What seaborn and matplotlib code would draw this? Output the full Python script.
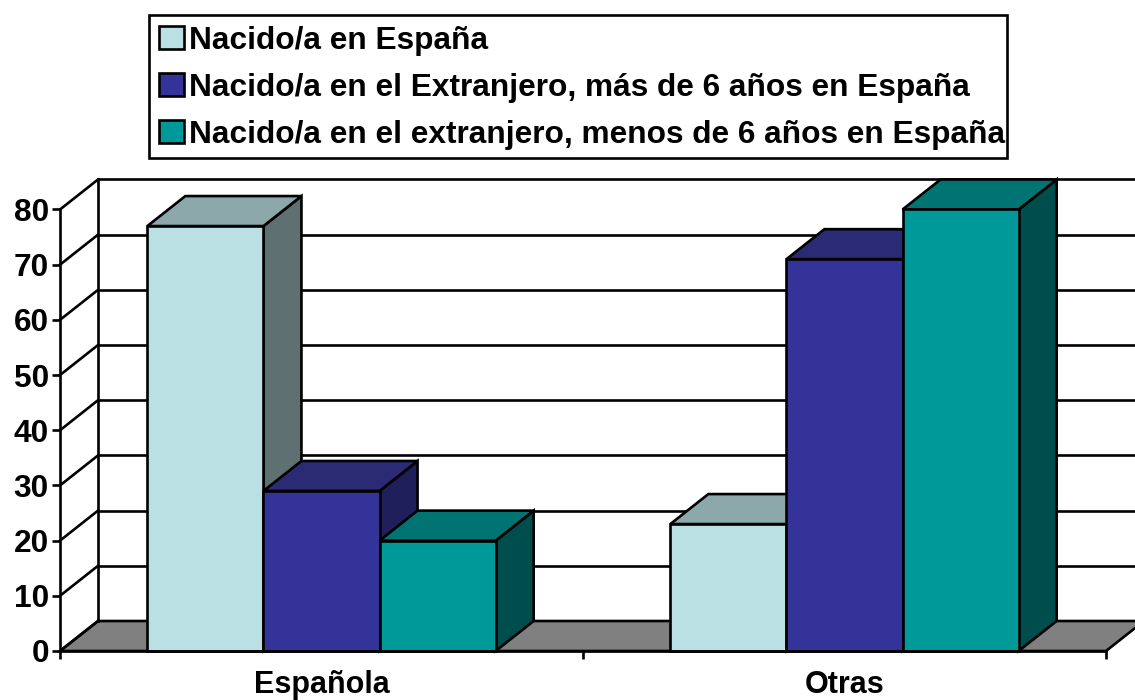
import pandas as pd
import matplotlib.pyplot as plt
from matplotlib.patches import Polygon, Rectangle
import seaborn as sns

sns.set_theme(style='white')
plt.rcParams['font.family'] = ['Liberation Sans', 'DejaVu Sans']

categories = ['Española', 'Otras']
series_names = ['Nacido/a en España',
                'Nacido/a en el Extranjero, más de 6 años en España',
                'Nacido/a en el extranjero, menos de 6 años en España']
nacido_espana = [77, 23]
extranjero_mas6 = [29, 71]
extranjero_menos6 = [20, 80]
y_ticks = [0, 10, 20, 30, 40, 50, 60, 70, 80]
front_colors = ['#BBE0E3', '#333399', '#009999']
top_colors = ['#8CA8AA', '#2A2A75', '#007373']
side_colors = ['#5E7072', '#1F1F5C', '#004D4D']

df = pd.DataFrame({
    'nacionalidad': categories * 3,
    'origen': [s for s in series_names for _ in categories],
    'pct': nacido_espana + extranjero_mas6 + extranjero_menos6,
})

W, H = 1135, 700
fig = plt.figure(figsize=(W / 100, H / 100), dpi=100)
# front plane of the fake 3D box, in pixels of the reference
left, right, y0, y80 = 60, 1106, 651, 209.5
ax = fig.add_axes([left / W, 1 - y0 / H, (right - left) / W, (y0 - y80) / H])

lw = 1.9
sns.barplot(data=df, x='nacionalidad', y='pct', hue='origen', order=categories, hue_order=series_names,
            palette=front_colors, saturation=1, width=0.666, gap=0, edgecolor='black', linewidth=lw, ax=ax)
ax.set_xlim(-0.5, 1.5)
ax.set_ylim(0, 80)
ax.set_xlabel('')
ax.set_ylabel('')

dx = 38 / ((right - left) / 2)   # depth of the box in data units
dy = 30.0 / ((y0 - y80) / 80)


def poly(pts, color, z):
    ax.add_patch(Polygon(pts, closed=True, facecolor=color, edgecolor='black', linewidth=lw,
                         clip_on=False, zorder=z, joinstyle='miter'))


def line(xs, ys, z=1.5):
    ax.plot(xs, ys, color='black', lw=lw, clip_on=False, zorder=z, solid_capstyle='projecting')


# floor and back wall
poly([(-0.5, 0), (-0.5 + dx, dy), (1.5 + dx, dy), (1.5, 0)], '#808080', 1)
line([-0.5 + dx, -0.5 + dx], [dy, 80 + dy])
line([-0.5 + dx, 1.5 + dx], [80 + dy, 80 + dy])
for v in y_ticks[1:-1]:
    line([-0.5 + dx, 1.5 + dx], [v + dy, v + dy])
for v in y_ticks:
    line([-0.5, -0.5 + dx], [v, v + dy])

# tops and side faces, left to right so that later bars cover earlier ones
z = 2
for i in range(len(categories)):
    for j, cont in enumerate(ax.containers):
        bar = cont.patches[i]
        x0, x1, h = bar.get_x(), bar.get_x() + bar.get_width(), bar.get_height()
        poly([(x1, 0), (x1 + dx, dy), (x1 + dx, h + dy), (x1, h)], side_colors[j], z)
        poly([(x0, h), (x0 + dx, h + dy), (x1 + dx, h + dy), (x1, h)], top_colors[j], z)
        bar.set_zorder(z + 0.5)
        bar.set_clip_on(False)
        z += 1

sns.despine(ax=ax, top=True, right=True)
for s in ['left', 'bottom']:
    ax.spines[s].set_linewidth(lw)
    ax.spines[s].set_color('black')
    ax.spines[s].set_zorder(30)

ax.set_yticks(y_ticks)
ax.set_xticks([0, 1])
ax.set_xticks([-0.5, 0.5, 1.5], minor=True)
ax.tick_params(axis='x', which='major', length=0, pad=13.5, labelsize=22)
ax.tick_params(axis='x', which='minor', length=6, width=lw, color='black', bottom=True)
ax.tick_params(axis='y', length=6, width=lw, color='black', left=True, pad=2, labelsize=22.8)
for t in ax.get_xticklabels() + ax.get_yticklabels():
    t.set_fontweight('bold')
    t.set_color('black')

# legend box drawn apart, the text sits much closer to its right edge than the swatches to the left one
fig.add_artist(Rectangle((149 / W, 1 - 158 / H), 858 / W, 143 / H, transform=fig.transFigure,
                         facecolor='white', edgecolor='black', linewidth=lw, zorder=-1))
handles, labels = ax.get_legend_handles_labels()
leg = ax.legend(handles, labels, loc='upper left', bbox_to_anchor=(149 / W, 1 - 16 / H),
                bbox_transform=fig.transFigure, frameon=False,
                prop={'weight': 'bold', 'size': 22.8}, handlelength=0.8, handleheight=0.77,
                handletextpad=0.15, labelspacing=0.54, borderpad=0.3, borderaxespad=0)
leg.set_zorder(50)
for t in leg.get_texts():
    t.set_color('black')

fig.savefig('out.png', dpi=100)
